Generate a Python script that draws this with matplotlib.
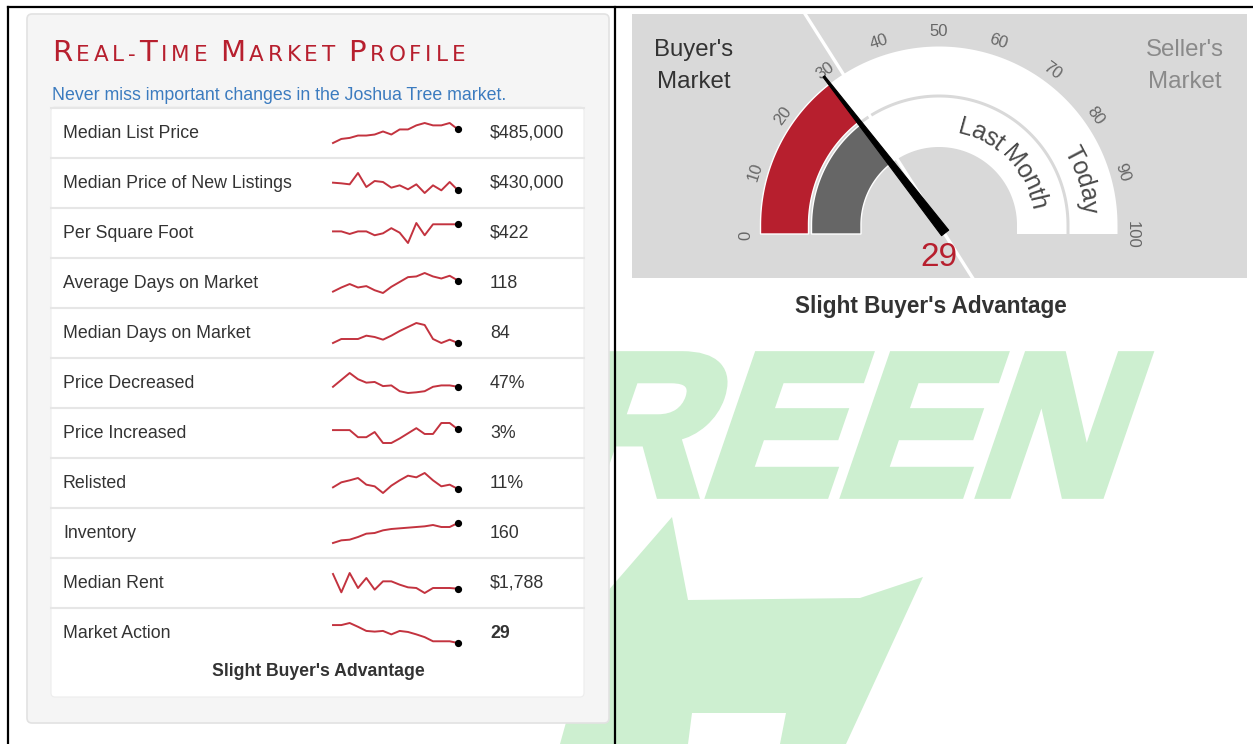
import numpy as np
import matplotlib.pyplot as plt
from matplotlib.patches import Rectangle, FancyBboxPatch, Polygon, PathPatch
from matplotlib.textpath import TextPath
from matplotlib.font_manager import FontProperties
from matplotlib.transforms import Affine2D

# ---- data ----
metrics = ['Median List Price', 'Median Price of New Listings', 'Per Square Foot',
           'Average Days on Market', 'Median Days on Market', 'Price Decreased',
           'Price Increased', 'Relisted', 'Inventory', 'Median Rent', 'Market Action']
current = ['$485,000', '$430,000', '$422', '118', '84', '47%', '3%', '11%',
           '160', '$1,788', '29']

list_price = [445000, 457000, 460000, 467000, 467000, 470000, 479000, 470000,
              485000, 485000, 497000, 504000, 497000, 497000, 504000, 485000]
new_listing_price = [453000, 451000, 448000, 482000, 440000, 458000, 455000, 438000,
                     445000, 433000, 448000, 422000, 445000, 430000, 455000, 430000]
price_sqft = [411, 411, 407, 411, 411, 405, 408, 416, 409, 393, 424, 405, 422, 422, 422, 422]
avg_dom = [102, 108, 113, 108, 110, 104, 100, 109, 116, 123, 124, 129, 124, 121, 125, 118]
median_dom = [84, 90, 90, 90, 95, 93, 89, 95, 102, 108, 114, 111, 90, 84, 89, 84]
price_decreased = [47, 52, 57, 52.5, 50, 50.5, 47.5, 48, 43.8, 42.5, 43, 43.8, 47, 48, 48, 47]
price_increased = [2.9, 2.9, 2.9, 1.8, 1.8, 2.6, 0.9, 0.9, 1.6, 2.4, 3.2, 2.3, 2.3, 4.0, 4.0, 3.0]
relisted = [11.5, 13.0, 13.6, 14.3, 12.3, 11.8, 9.8, 12.0, 13.6, 15.0, 14.5, 15.8, 13.6, 11.8, 12.3, 11.0]
inventory = [130, 134, 135, 139, 144, 145, 149, 151, 152, 153, 154, 155, 157, 154, 154, 160]
median_rent = [1876, 1766, 1882, 1792, 1852, 1782, 1832, 1832, 1812, 1796, 1792, 1762,
               1792, 1792, 1792, 1788]
market_action = [39.4, 39.4, 40.6, 38.4, 36.0, 35.6, 36.0, 34.0, 36.0, 35.4, 34.0, 32.4,
                 30.0, 30.0, 30.0, 29.0]
series = [list_price, new_listing_price, price_sqft, avg_dom, median_dom, price_decreased,
          price_increased, relisted, inventory, median_rent, market_action]

today = 29
last_month = 29
divider = 32
gauge_ticks = [0, 10, 20, 30, 40, 50, 60, 70, 80, 90, 100]

RED = '#b71f2e'
SPARK = '#c3333f'
TXT = '#333333'

W, H = 1253, 744
fig = plt.figure(figsize=(W / 100, H / 100), dpi=100)
base = fig.add_axes([0, 0, 1, 1])
base.set_xlim(0, W)
base.set_ylim(H, 0)
base.axis('off')
rend = fig.canvas.get_renderer()

# ---- green watermark behind everything ----
wm = '#cdefd0'
tp = TextPath((0, 0), 'REEN', prop=FontProperties(family='Liberation Sans', weight='bold'), size=1)
ext = tp.get_extents()
sx = (1100 - 565) / ext.width
sy = 138 / ext.height
tr = (Affine2D().translate(-ext.x0, -ext.y0).scale(sx, sy)
      .skew_deg(19, 0).scale(1, -1).translate(565, 494))
base.add_patch(PathPatch(tr.transform_path(tp), fc=wm, ec=wm, lw=7, zorder=0))
base.add_patch(Polygon([(672, 517), (688, 600), (860, 598), (923, 577), (846, 744),
                        (780, 744), (786, 713), (692, 713), (688, 744), (560, 744), (600, 600)],
                       closed=True, fc=wm, ec='none', zorder=0))

# ---- frame lines ----
base.plot([8, W], [7, 7], color='black', lw=1.6, zorder=5)
base.plot([8, 8], [7, H], color='black', lw=1.6, zorder=5)
base.plot([615, 615], [7, H], color='black', lw=1.6, zorder=5)

# ---- left panel ----
base.add_patch(FancyBboxPatch((27, 14), 582, 709, boxstyle='round,pad=0,rounding_size=5',
                              fc='#f5f5f5', ec='#e2e2e2', lw=1.2, zorder=1))
base.add_patch(FancyBboxPatch((51, 107), 533, 590, boxstyle='round,pad=0,rounding_size=4',
                              fc='white', ec='#ededed', lw=0.8, zorder=2))

# title in fake small caps, letter-spaced to the header width
title = 'Real-Time Market Profile'
x0, x_end, word_gap = 52, 465, 13
words = title.split(' ')
fps = {True: FontProperties(family='DejaVu Sans', size=21),
       False: FontProperties(family='DejaVu Sans', size=15.5)}
natural = sum(rend.get_text_width_height_descent(c.upper(), fps[c.isupper()], ismath=False)[0]
              for c in title.replace(' ', ''))
n_gaps = len(title.replace(' ', '')) - len(words)
track = (x_end - x0 - natural - word_gap * (len(words) - 1)) / n_gaps
x = x0
for word in words:
    for k, ch in enumerate(word):
        fp = fps[ch.isupper()]
        base.text(x, 61, ch.upper(), fontproperties=fp, color=RED, va='baseline',
                  ha='left', zorder=3)
        x += rend.get_text_width_height_descent(ch.upper(), fp, ismath=False)[0]
        if k < len(word) - 1:
            x += track
    x += word_gap

base.text(52, 100, 'Never miss important changes in the Joshua Tree market.',
          fontsize=12.8, color='#3b7bbf', family='Liberation Sans', va='baseline', zorder=3)

for i, (name, val, data) in enumerate(zip(metrics, current, series)):
    yc = 133 + 50 * i
    base.plot([51, 584], [yc - 25, yc - 25], color='#e6e6e6', lw=1.5, zorder=3)
    base.text(63, yc, name, fontsize=12.8, color=TXT, family='Liberation Sans',
              va='center', zorder=3)
    base.text(490, yc, val, fontsize=12.8, color=TXT, family='Liberation Sans', va='center',
              fontweight='bold' if name == 'Market Action' else 'normal', zorder=3)
    sp = fig.add_axes([333 / W, (H - yc - 10) / H, 125 / W, 20 / H])
    sp.plot(range(len(data)), data, color=SPARK, lw=1.4, solid_joinstyle='round', clip_on=False)
    sp.plot(len(data) - 1, data[-1], 'o', color='black', ms=4.2, clip_on=False)
    sp.set_xlim(0, len(data) - 1)
    sp.set_ylim(min(data), max(data))
    sp.axis('off')

base.text(318, 672, "Slight Buyer's Advantage", fontsize=12.7, fontweight='bold', color=TXT,
          family='Liberation Sans', ha='center', va='center', zorder=3)

# ---- gauge (own axes, 1 unit = 1 px, origin at gauge centre) ----
cx, cy = 939, 225
g = fig.add_axes([0, 0, 1, 1])
g.set_xlim(-cx, W - cx)
g.set_ylim(-(H - cy), cy)
g.axis('off')
g.patch.set_alpha(0)

g.add_patch(Rectangle((632 - cx, cy - 278), 615, 264, fc='#d9d9d9', ec='none', zorder=0))


def ang(v):
    return 180 - 1.8 * v


# white divider line across the panel
a = np.deg2rad(ang(divider))
t0, t1 = (cy - 278) / np.sin(a), (cy - 14) / np.sin(a)
g.plot([t0 * np.cos(a), t1 * np.cos(a)], [t0 * np.sin(a), t1 * np.sin(a)],
       color='white', lw=2.4, zorder=1)

ext_h = 9


def band(r0, r1, a0, right_foot):
    # annulus from angle a0 to 180 deg, with the flat foot the pane has below the centre
    t = np.deg2rad(np.linspace(a0, 180, 120))
    pts = []
    if right_foot:
        pts += [(r0, -ext_h), (r1, -ext_h)]
    pts += list(zip(r1 * np.cos(t), r1 * np.sin(t)))
    pts += [(-r1, -ext_h), (-r0, -ext_h)]
    pts += list(zip(r0 * np.cos(t[::-1]), r0 * np.sin(t[::-1])))
    return pts


outer = (130.5, 178.5)
inner = (78, 127.5)
for r0, r1 in (outer, inner):
    g.add_patch(Polygon(band(r0, r1, 0, True), closed=True, fc='white', ec='none', zorder=2))
for (r0, r1), v, col in ((outer, today, RED), (inner, last_month, '#666666')):
    g.add_patch(Polygon(band(r0, r1, ang(v), False), closed=True, fc=col, ec='white',
                        lw=1, zorder=3))

for v in gauge_ticks:
    th = np.deg2rad(ang(v))
    r = 193
    g.text(r * np.cos(th), r * np.sin(th) - 10 * (1 - np.sin(th)), str(v), rotation=ang(v) - 90,
           rotation_mode='anchor', ha='center', va='center', fontsize=12, color='#666666',
           family='Liberation Sans', zorder=4)


def arc_text(s, r_mid, center_deg, size, color):
    fp = FontProperties(family='Liberation Sans', size=size)
    widths = [rend.get_text_width_height_descent(c, fp, ismath=False)[0] for c in s]
    cap = size * 100 / 72 * 0.716
    rb = r_mid - cap / 2
    cur = np.deg2rad(center_deg) + sum(widths) / 2 / r_mid
    for c, w in zip(s, widths):
        a = cur - w / 2 / r_mid
        g.text(rb * np.cos(a), rb * np.sin(a), c, rotation=np.rad2deg(a) - 90,
               rotation_mode='anchor', ha='center', va='baseline', fontproperties=fp,
               color=color, zorder=4)
        cur -= w / r_mid


arc_text('Last Month', 102.5, 43.8, 18, '#4a4a4a')
arc_text('Today', 153, 17.5, 18, '#4a4a4a')

# needle
th = np.deg2rad(ang(today))
u = np.array([np.cos(th), np.sin(th)])
p = np.array([-u[1], u[0]])
rear, tip = -10 * u, 188 * u
g.add_patch(Polygon([rear + 4.5 * p, tip + 1.0 * p, tip - 1.0 * p, rear - 4.5 * p],
                    closed=True, fc='black', ec='black', lw=0.8, joinstyle='round', zorder=5))

g.text(0, cy - 258, str(today), fontsize=24, color=RED, family='Liberation Sans',
       ha='center', va='center', zorder=6)

for label, xc, col in (("Buyer's", 694, TXT), ("Seller's", 1185, '#8a8a8a')):
    g.text(xc - cx, cy - 50, label, fontsize=17.3, color=col, family='Liberation Sans',
           ha='center', va='center', zorder=4)
    g.text(xc - cx, cy - 82, 'Market', fontsize=17.3, color=col, family='Liberation Sans',
           ha='center', va='center', zorder=4)

g.text(931 - cx, cy - 306, "Slight Buyer's Advantage", fontsize=16.3, fontweight='bold',
       color=TXT, family='Liberation Sans', ha='center', va='center', zorder=4)

fig.savefig('out.png', dpi=100)
